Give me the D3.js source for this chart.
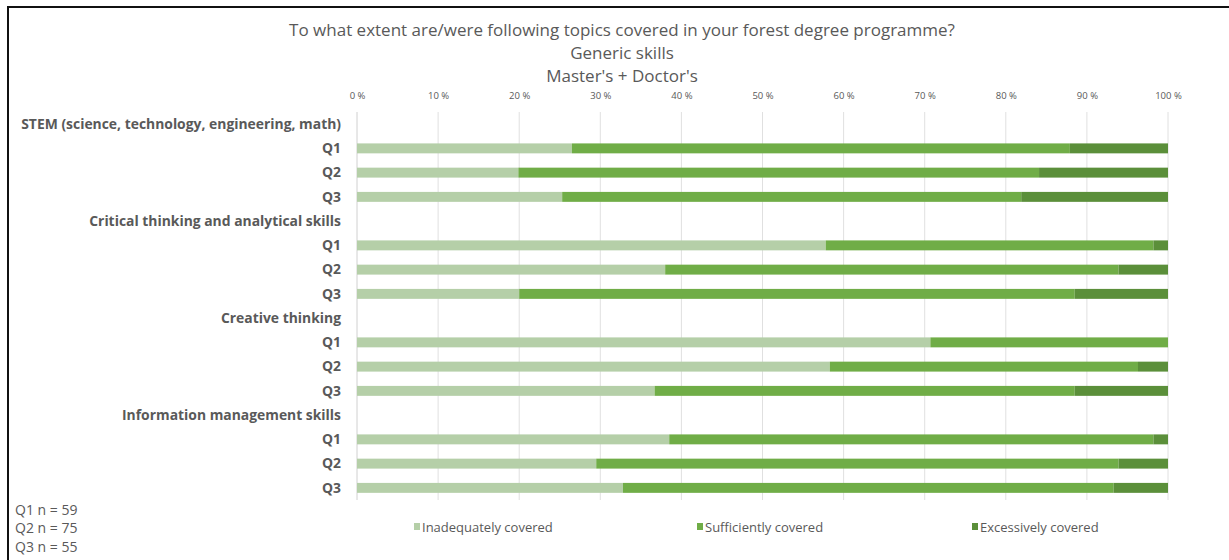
<!DOCTYPE html>
<html>
<head>
<meta charset="utf-8">
<script src="https://cdn.jsdelivr.net/npm/d3@7"></script>
<style>
  html, body { margin: 0; padding: 0; background: #fff; }
  svg { display: block; }
  text { font-family: "Open Sans", "Noto Sans", sans-serif; }
</style>
</head>
<body>
<svg id="chart" width="1229" height="560"></svg>
<script>
// ---- data ----
const groups = [
  "STEM (science, technology, engineering, math)",
  "Critical thinking and analytical skills",
  "Creative thinking",
  "Information management skills"
];
const questions = ["Q1", "Q2", "Q3"];
const seriesNames = ["Inadequately covered", "Sufficiently covered", "Excessively covered"];
// percentages per group, per question (Q1, Q2, Q3)
const inadequate = [
  [26.5, 19.9, 25.3],
  [57.8, 38.0, 20.0],
  [70.7, 58.3, 36.7],
  [38.5, 29.5, 32.8]
];
const sufficient = [
  [61.4, 64.2, 56.6],
  [40.4, 55.9, 68.5],
  [29.3, 38.0, 51.8],
  [59.7, 64.4, 60.5]
];
const excessive = [
  [12.1, 15.9, 18.1],
  [1.8, 6.1, 11.5],
  [0.0, 3.7, 11.5],
  [1.8, 6.1, 6.7]
];
const tickValues = [0, 10, 20, 30, 40, 50, 60, 70, 80, 90, 100];
const titleLines = [
  "To what extent are/were following topics covered in your forest degree programme?",
  "Generic skills",
  "Master's + Doctor's"
];
const notes = ["Q1 n = 59", "Q2 n = 75", "Q3 n = 55"];

// ---- build rows ----
const rows = [];
groups.forEach((g, gi) => {
  rows.push({ key: "g" + gi, label: g, header: true });
  questions.forEach((q, qi) => {
    rows.push({
      key: "g" + gi + q, label: q, header: false,
      vals: [inadequate[gi][qi], sufficient[gi][qi], excessive[gi][qi]]
    });
  });
});

const colors = ["#b5cfa8", "#70ad47", "#5b8f3a"];
const textColor = "#595959";

const svg = d3.select("#chart");

// frame
svg.append("line").attr("x1", 7).attr("x2", 1229).attr("y1", 7).attr("y2", 7)
  .attr("stroke", "#111").attr("stroke-width", 2);
svg.append("line").attr("x1", 8).attr("x2", 8).attr("y1", 6).attr("y2", 560)
  .attr("stroke", "#111").attr("stroke-width", 2);

const plotLeft = 357, plotRight = 1168, plotTop = 112, plotBottom = 500;
const x = d3.scaleLinear().domain([0, 100]).range([plotLeft, plotRight]);
const y = d3.scaleBand().domain(rows.map(r => r.key)).range([plotTop, plotBottom]).paddingInner(0.59).paddingOuter(0.295);

// title
svg.selectAll("text.title").data(titleLines).join("text")
  .attr("class", "title")
  .attr("x", 622).attr("y", (d, i) => 36 + i * 23)
  .attr("text-anchor", "middle")
  .attr("font-size", 17)
  .attr("fill", textColor)
  .text(d => d);

// gridlines
svg.append("g").selectAll("line").data(tickValues).join("line")
  .attr("x1", d => x(d)).attr("x2", d => x(d))
  .attr("y1", plotTop).attr("y2", plotBottom)
  .attr("stroke", d => d === 0 ? "#d0d0d0" : "#e0e0e0").attr("stroke-width", 1);

// top axis labels
const axis = d3.axisTop(x).tickValues(tickValues).tickFormat(d => d + " %").tickSize(0).tickPadding(0);
const ax = svg.append("g").attr("transform", `translate(0,${plotTop - 13})`).call(axis);
ax.select(".domain").remove();
ax.selectAll("text").attr("font-size", 9.5).attr("fill", textColor)
  .attr("font-family", "\"Open Sans\", sans-serif");

// bars
const barRows = rows.filter(r => !r.header);
const stackData = barRows.map(r => {
  let acc = 0;
  return r.vals.map((v, i) => { const s = { key: r.key, i, x0: acc, x1: acc + v }; acc += v; return s; });
});
svg.append("g").selectAll("g").data(stackData).join("g")
  .selectAll("rect").data(d => d).join("rect")
  .attr("x", d => x(d.x0))
  .attr("width", d => Math.max(0, x(d.x1) - x(d.x0)))
  .attr("y", d => y(d.key))
  .attr("height", y.bandwidth())
  .attr("fill", d => colors[d.i]);

// row labels
svg.append("g").selectAll("text").data(rows).join("text")
  .attr("x", 341)
  .attr("y", r => y(r.key) + y.bandwidth() / 2)
  .attr("dy", "0.35em")
  .attr("text-anchor", "end")
  .attr("font-size", 13.9)
  .attr("font-weight", "bold")
  .attr("fill", textColor)
  .text(r => r.label);

// legend
const legendX = [414, 697, 972];
const lg = svg.append("g").selectAll("g").data(seriesNames).join("g")
  .attr("transform", (d, i) => `translate(${legendX[i]},527)`);
lg.append("rect").attr("x", 0).attr("y", -4).attr("width", 6).attr("height", 7)
  .attr("fill", (d, i) => colors[i]);
lg.append("text").attr("x", 8).attr("y", 0).attr("dy", "0.35em")
  .attr("font-size", 13).attr("fill", textColor).text(d => d);

// notes
svg.append("g").selectAll("text").data(notes).join("text")
  .attr("x", 15).attr("y", (d, i) => 510 + i * 18.5).attr("dy", "0.35em")
  .attr("font-size", 14).attr("fill", textColor).text(d => d);
</script>
</body>
</html>
